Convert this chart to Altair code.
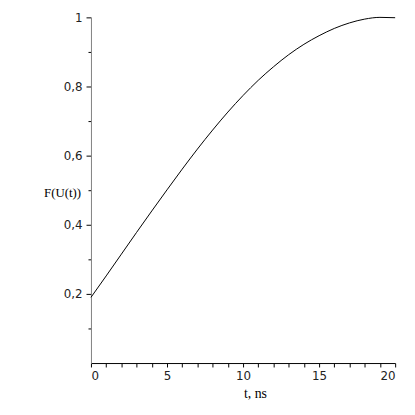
import altair as alt
import pandas as pd

t_vals = list(range(0, 21))
f_vals = [0.19, 0.252, 0.315, 0.378, 0.440, 0.501, 0.561, 0.619, 0.674, 0.726, 0.774,
          0.818, 0.857, 0.892, 0.922, 0.947, 0.968, 0.984, 0.995, 1.0, 0.999]
x_ticks = list(range(0, 21))
y_ticks = [round(i * 0.1, 1) for i in range(1, 11)]

df = pd.DataFrame({"t": t_vals, "F": f_vals})

chart = alt.Chart(df).mark_line(color="black", strokeWidth=1, interpolate="monotone").encode(
    x=alt.X("t:Q", scale=alt.Scale(domain=[0, 20], nice=False),
            axis=alt.Axis(values=x_ticks, grid=False, domainColor="black", tickColor="black",
                          tickSize=4, labelFont="DejaVu Sans", labelFontSize=12, labelColor="#222",
                          labelPadding=4,
                          labelExpr="datum.value % 5 == 0 ? datum.label : ''",
                          title="t, ns", titleFont="Liberation Serif", titleFontSize=14,
                          titleFontWeight="normal", titleColor="black",
                          titleX=166, titleY=31, titleAlign="center", titleBaseline="middle")),
    y=alt.Y("F:Q", scale=alt.Scale(domain=[0, 1], nice=False),
            axis=alt.Axis(values=y_ticks, grid=False, domainColor="#808080", tickColor="black",
                          tickSize={"condition": {"test": "round(datum.value*10) % 2 == 0", "value": 5}, "value": 3},
                          labelFont="DejaVu Sans", labelFontSize=12, labelColor="#222", labelPadding=4,
                          labelExpr="round(datum.value*10) % 2 == 0 ? replace(toString(datum.value), '.', ',') : ''",
                          title="F(U(t))", titleFont="Liberation Serif", titleFontSize=13,
                          titleFontWeight="normal", titleColor="black", titleAngle=0,
                          titleX=-48, titleY=177, titleAlign="left", titleBaseline="middle")),
).properties(
    width=308, height=350,
    autosize=alt.AutoSizeParams(type="none"),
    padding={"left": 84, "top": 7, "right": 12, "bottom": 40},
).configure_view(stroke=None)

chart.save("out.html", embed_options={"renderer": "svg", "actions": False})
